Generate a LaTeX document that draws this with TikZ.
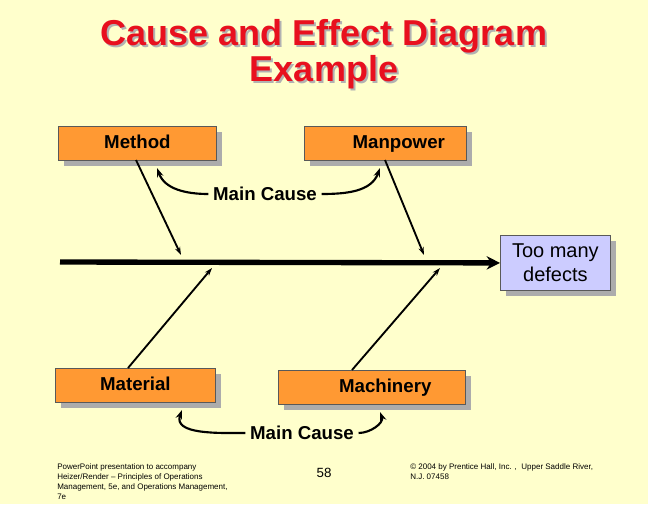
\documentclass[tikz,border=0pt]{standalone}
\usepackage{fontspec}
\setmainfont{Liberation Sans}
\usetikzlibrary{arrows.meta}
\definecolor{bg}{HTML}{FFFFCC}
\definecolor{org}{HTML}{FF9933}
\definecolor{lav}{HTML}{CCCCFF}
\definecolor{ttl}{HTML}{E8101E}
\begin{document}
\begin{tikzpicture}[x=0.75pt,y=-0.75pt,
  box/.style={draw=gray!70!black,line width=0.6pt,anchor=north west,inner sep=0pt,text height=10pt,text depth=3pt,font=\fontsize{14}{16}\selectfont\bfseries},
  shad/.style={fill=gray!65,draw=none},
  bone/.style={line width=1.4pt,-{Stealth[length=6pt,width=4pt]}},
  curv/.style={line width=1.6pt,-{Stealth[length=7pt,width=5pt]}},
  lbl/.style={font=\fontsize{14}{16}\selectfont\bfseries}]
\fill[bg] (0,0) rectangle (648,504);
\useasboundingbox (0,0) rectangle (648,504);
\node[font=\fontsize{27}{27}\selectfont\bfseries,text=gray!60,align=center] at (326,56) {Cause and Effect Diagram\\Example};
\node[font=\fontsize{27}{27}\selectfont\bfseries,text=ttl,align=center] (title) at (324,54) {Cause and Effect Diagram\\Example};
% shadows
\fill[shad] (64,132) rectangle (222,166);
\fill[shad] (310,132) rectangle (472,166);
\fill[shad] (61,374) rectangle (221,408);
\fill[shad] (284,376) rectangle (471,410);
\fill[shad] (506,241) rectangle (616,296);
\node[box,fill=org,minimum width=158*0.75pt,minimum height=34*0.75pt] (method) at (58,126) {Method};
\node[box,fill=org,minimum width=162*0.75pt,minimum height=34*0.75pt] (manp) at (304,126) {\hspace*{20pt}Manpower};
\node[box,fill=org,minimum width=160*0.75pt,minimum height=34*0.75pt] (mat) at (55,368) {Material};
\node[box,fill=org,minimum width=187*0.75pt,minimum height=34*0.75pt] (mach) at (278,370) {\hspace*{20pt}Machinery};
\node[draw=gray!70!black,line width=0.6pt,anchor=north west,inner sep=0pt,fill=lav,minimum width=110*0.75pt,minimum height=55*0.75pt,align=center,font=\fontsize{15}{18}\selectfont] (eff) at (500,235) {Too many\\defects};
% spine
\coordinate (s0) at (60,262);
\draw[line width=4pt,-{Stealth[length=10pt,width=10pt]}] (s0) -- (eff.west);
\coordinate (t1) at (181,255); \coordinate (t2) at (424,255);
\coordinate (t3) at (212,268); \coordinate (t4) at (440,268);
\draw[bone] (136,160) -- (t1);
\draw[bone] (385,160) -- (t2);
\draw[bone] (128,368) -- (t3);
\draw[bone] (352,370) -- (t4);
\node[lbl] (mc1) at (265,194) {Main Cause};
\node[lbl] (mc2) at (302,433) {Main Cause};
\coordinate (a1) at (157,168); \coordinate (a2) at (380,168);
\coordinate (a3) at (182,410); \coordinate (a4) at (380,412);
\draw[curv] (mc1.west) to[out=180,in=-70] (a1);
\draw[curv] (mc1.east) to[out=0,in=-110] (a2);
\draw[curv] (mc2.west) to[out=180,in=-110] (a3);
\draw[curv] (mc2.east) to[out=0,in=-70] (a4);
\node[anchor=north west,align=left,inner sep=0pt,font=\fontsize{6}{7.5}\selectfont] (f1) at (57,463) {PowerPoint presentation to accompany\\Heizer/Render -- Principles of Operations\\Management, 5e, and Operations Management,\\7e};
\node[font=\fontsize{10}{12}\selectfont] (pg) at (324,473) {58};
\node[anchor=north west,align=left,inner sep=0pt,font=\fontsize{6}{7.5}\selectfont] (f2) at (410,463) {© 2004 by Prentice Hall, Inc. ,\ \ Upper Saddle River,\\N.J. 07458};
\end{tikzpicture}
\end{document}
